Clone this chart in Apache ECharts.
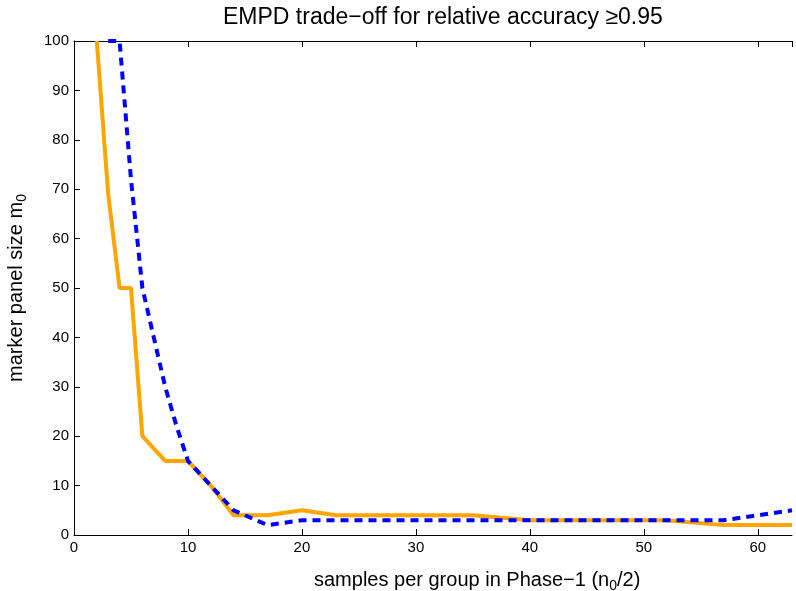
<!DOCTYPE html>
<html>
<head>
<meta charset="utf-8">
<script src="https://cdn.jsdelivr.net/npm/echarts@6/dist/echarts.min.js"></script>
<style>
  html, body { margin: 0; padding: 0; background: #fff; }
  #chart { width: 796px; height: 591px; }
</style>
</head>
<body>
<div id="chart"></div>
<script>
// values
var orangeX = [2, 3, 4, 5, 6, 8, 10, 12, 14, 17, 20, 23, 35, 40, 52, 57, 63];
var orangeY = [100, 69, 50, 50, 20, 15, 15, 10, 4, 4, 5, 4, 4, 3, 3, 2, 2];
var blueX = [3, 4, 5, 6, 7, 8, 9, 10, 12, 14, 17, 20, 57, 60, 63];
var blueY = [100, 100, 72, 50, 40, 30, 22, 15, 10, 5, 2, 3, 3, 4, 5];
var xTicks = [0, 10, 20, 30, 40, 50, 60];
var yTicks = [0, 10, 20, 30, 40, 50, 60, 70, 80, 90, 100];

function pairs(xs, ys) {
	var out = [];
	for (var i = 0; i < xs.length; i++) {
		out.push([xs[i], ys[i]]);
	}
	return out;
}

var font = 'Liberation Sans, Arial, sans-serif';
var axisLine = { show: true, lineStyle: { color: '#000', width: 1 } };
var tick = { show: true, inside: true, length: 6, lineStyle: { color: '#000' } };
var sub = { fontSize: 14, fontFamily: font, color: '#000', padding: [11, 0, 0, 0] };

var chart = echarts.init(document.getElementById('chart'));
chart.setOption({
	animation: false,
	backgroundColor: '#fff',
	title: [{
		text: 'EMPD trade\u2212off for relative accuracy \u22650.95',
		left: 218,
		top: 1,
		textStyle: { fontFamily: font, fontSize: 23, fontWeight: 'normal', color: '#000' }
	}, {
		// x axis label
		text: 'samples per group in Phase\u22121 (n{s|0}/2)',
		left: 309,
		top: 563,
		textStyle: { fontFamily: font, fontSize: 20, fontWeight: 'normal', color: '#000', rich: { s: sub } }
	}],
	grid: { left: 74, right: 4, top: 41, bottom: 56, outerBoundsMode: 'none', containLabel: false },
	xAxis: [{
		type: 'value',
		min: 0,
		max: 63,
		interval: 10,
		position: 'bottom',
		axisLine: axisLine,
		axisTick: tick,
		axisLabel: {
			fontFamily: font, fontSize: 15, color: '#000', margin: 5,
			showMaxLabel: false,
			formatter: function(v) { return xTicks.indexOf(v) >= 0 ? String(v) : ''; }
		},
		splitLine: { show: false }
	}, {
		type: 'value',
		min: 0,
		max: 63,
		interval: 10,
		position: 'top',
		axisLine: axisLine,
		axisTick: tick,
		axisLabel: { show: false },
		splitLine: { show: false }
	}],
	yAxis: {
		type: 'value',
		min: 0,
		max: 100,
		interval: 10,
		name: 'marker panel size m{s|0}',
		nameLocation: 'middle',
		nameGap: 45,
		nameTextStyle: { fontFamily: font, fontSize: 20, color: '#000', rich: { s: sub } },
		axisLine: axisLine,
		axisTick: tick,
		axisLabel: {
			fontFamily: font, fontSize: 15, color: '#000', margin: 5,
			formatter: function(v) { return yTicks.indexOf(v) >= 0 ? String(v) : ''; }
		},
		splitLine: { show: false }
	},
	series: [{
		type: 'line',
		data: pairs(orangeX, orangeY),
		symbol: 'none',
		clip: true,
		lineStyle: { color: '#FFA500', width: 4 },
		z: 2
	}, {
		type: 'line',
		data: pairs(blueX, blueY),
		symbol: 'none',
		clip: true,
		lineStyle: { color: '#0000FF', width: 4, type: [8, 6] },
		z: 3
	}]
});
</script>
</body>
</html>
